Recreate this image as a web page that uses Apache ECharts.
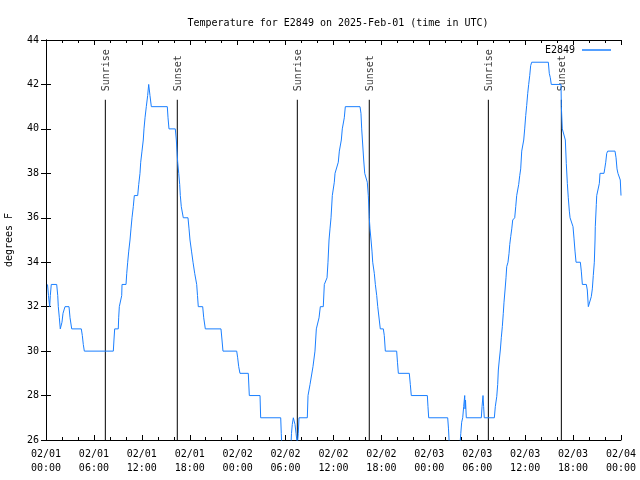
<!DOCTYPE html>
<html>
<head>
<meta charset="utf-8">
<script src="https://cdn.jsdelivr.net/npm/echarts@6/dist/echarts.min.js"></script>
<style>html,body{margin:0;padding:0;background:#fff}#c{width:640px;height:480px}</style>
</head>
<body>
<div id="c"></div>
<script>
// hours since 2025-02-01 00:00 UTC
var times = [0.19,0.31,0.46,0.54,0.66,1.34,1.47,1.54,1.67,1.79,1.88,2.00,2.13,2.38,2.88,3.01,3.22,4.42,4.55,4.67,4.80,8.43,8.51,8.60,9.05,9.10,9.18,9.35,9.48,9.52,10.02,10.11,10.23,10.36,10.52,10.64,10.77,10.93,11.06,11.48,11.61,11.77,11.86,12.02,12.18,12.27,12.40,12.56,12.73,12.86,12.94,13.02,13.19,15.19,15.28,15.40,16.19,16.32,16.40,16.49,16.62,16.74,16.82,16.94,17.19,17.78,17.91,18.03,18.22,18.41,18.62,18.87,18.97,19.07,19.62,19.75,19.95,21.91,22.04,22.16,23.88,24.00,24.13,24.29,25.33,25.46,26.80,26.88,29.39,29.46,29.55,30.64,30.74,30.84,30.97,31.09,31.18,31.31,31.47,31.59,31.68,32.72,32.81,33.06,33.43,33.68,33.85,34.19,34.35,34.72,34.85,35.19,35.31,35.44,35.56,35.69,35.85,36.10,36.19,36.35,36.60,36.73,36.98,37.10,37.35,37.48,39.32,39.44,39.53,39.78,39.91,40.11,40.23,40.36,40.48,40.57,40.70,40.82,40.91,41.11,41.24,41.41,41.54,41.74,41.86,42.24,42.36,42.49,43.91,44.01,44.12,45.49,45.62,45.74,47.75,47.83,47.92,50.30,50.40,50.50,51.84,51.94,52.05,52.18,52.30,52.43,52.47,52.53,52.63,54.51,54.60,54.72,54.80,54.88,56.14,56.26,56.44,56.56,56.64,56.76,56.89,57.01,57.14,57.26,57.35,57.48,57.60,57.69,57.85,57.98,58.07,58.19,58.32,58.44,58.69,58.82,58.94,59.07,59.19,59.32,59.44,59.57,59.69,59.82,59.94,60.07,60.19,60.32,60.44,60.57,60.69,60.82,62.90,63.02,63.15,63.27,64.49,64.53,64.65,64.90,65.03,65.15,65.28,65.40,65.53,65.62,65.87,65.99,66.12,66.24,66.37,66.91,67.03,67.16,67.66,67.78,67.91,68.16,68.28,68.41,68.53,68.66,68.75,68.78,68.91,68.96,69.16,69.29,69.37,69.87,69.96,70.09,70.21,70.34,71.25,71.38,71.50,71.62,71.79,71.91,72.00];
var temps = [33,32.5,32,32.5,33,33,32.5,32,31.5,31,31,31.3,31.7,32,32,31.5,31,31,30.7,30.3,30,30,30.5,31,31,31.5,32,32,32.5,33,33,33.5,34,34.5,35,35.5,36,36.5,37,37,37.5,38,38.5,39,39.5,40,40.5,41,41.5,42,42,41.5,41,41,40.5,40,40,39.5,39,38.5,38,37.5,37,36.5,36,36,35.5,35,34.5,34,33.5,33,32.5,32,32,31.5,31,31,30.5,30,30,29.7,29.3,29,29,28,28,27,27,26.3,25.5,25.5,26.3,26.7,27,27,26.7,26.3,25.8,26.3,27,27,28,28.5,29.3,30,31,31.5,32,32,33,33.3,34,35,35.5,36,37,37.6,38,38,38.5,39,39.5,40,40.5,41,41,40.7,40,38.6,38,38,37.6,37,36,35.5,35,34.5,34,33.5,33,32.5,32,32,31,31,30.7,30,30,29.5,29,29,28.5,28,28,27.5,27,27,26.5,25.8,25.8,26.3,26.8,27,27.5,28,27.4,27.8,27,27,27.5,28,27.5,27,27,27.5,27.95,28.5,29.15,29.6,30.05,30.6,31.1,31.7,32.2,32.75,33.3,33.8,34,34.4,34.8,35.15,35.5,35.9,36,36.5,37,37,37.5,37.9,38.2,39,39,39.5,40,40.6,41.05,41.6,42,42.4,42.85,43,43,42.5,42.3,42,42,41,40,40,39.5,38.45,37.55,36.9,36.3,36,36,35.6,35.05,34.5,34,34,33.6,33,33,32.75,32,32,32.45,32.8,33.4,34,35,35.6,36.6,37,37,37.55,38,38,38.2,38.5,38.9,39,39,38.7,38.2,38,38,37.7,37];
var sunTimes = [7.43,16.44,31.47,40.48,55.39,64.53];
var sunNames = ['Sunrise','Sunset','Sunrise','Sunset','Sunrise','Sunset'];
var seriesName = 'E2849';
var titleText = 'Temperature for E2849 on 2025-Feb-01 (time in UTC)';
var yName = 'degrees F';
var dayLabels = ['02/01','02/02','02/03','02/04'];

var FONT = 'DejaVu Sans Mono';
var pts = times.map(function(t,i){return [t,temps[i]];});

function xLab(v){
  var d = Math.floor(v/24), h = v - d*24;
  return dayLabels[d] + '\n' + (h<10?'0':'') + h + ':00';
}
var tickBase = {
  axisLine:{show:true,lineStyle:{color:'#000',width:1}},
  axisTick:{show:true,inside:true,length:5,lineStyle:{color:'#000'}},
  splitLine:{show:false}
};
function ext(a,b){return Object.assign({},a,b);}

var series = [];
sunTimes.forEach(function(t,i){
  series.push({type:'line',silent:true,symbol:'none',data:[[t,26],[t,41.31]],
    lineStyle:{color:'#000',width:1},itemStyle:{color:'#000'},animation:false,z:1});
});
series.push({type:'scatter',silent:true,symbolSize:0,animation:false,
  data:sunTimes.map(function(t,i){return {value:[t,41.69],name:sunNames[i]};}),
  label:{show:true,formatter:'{b}',rotate:90,position:[1,0],align:'left',verticalAlign:'middle',
    fontFamily:FONT,fontSize:10,color:'#000'}});
series.push({name:seriesName,type:'line',data:pts,showSymbol:false,symbol:'none',clip:true,
  lineStyle:{color:'#1a7fff',width:1},itemStyle:{color:'#1a7fff'},animation:false,z:3});

var chart = echarts.init(document.getElementById('c'));
chart.setOption({
  animation:false,
  textStyle:{fontFamily:FONT},
  title:{text:titleText,left:333,top:13,textAlign:'center',
    textStyle:{fontFamily:FONT,fontSize:10,fontWeight:'normal',color:'#000'}},
  legend:{data:[{name:seriesName,icon:'rect'}],right:24,top:40,align:'right',itemWidth:29,itemHeight:1.5,
    itemGap:5,textStyle:{fontFamily:FONT,fontSize:10,color:'#000',padding:[0,2,0,0]},selectedMode:false},
  grid:{left:46,right:19,top:40,bottom:40,containLabel:false,outerBoundsMode:'none'},
  xAxis:[
    ext(tickBase,{type:'value',min:0,max:72,interval:6,position:'bottom',
      minorTick:{show:true,splitNumber:3,length:3,lineStyle:{color:'#000'}},
      axisLabel:{formatter:xLab,fontFamily:FONT,fontSize:10,color:'#000',margin:7,lineHeight:14}}),
    ext(tickBase,{type:'value',min:0,max:72,interval:6,position:'top',
      minorTick:{show:true,splitNumber:3,length:3,lineStyle:{color:'#000'}},
      axisLabel:{show:false}})
  ],
  yAxis:[
    ext(tickBase,{type:'value',min:26,max:44,interval:2,position:'left',
      name:yName,nameLocation:'middle',nameRotate:90,nameGap:32,
      nameTextStyle:{fontFamily:FONT,fontSize:10,color:'#000'},
      axisLabel:{fontFamily:FONT,fontSize:10,color:'#000',margin:7}}),
    ext(tickBase,{type:'value',min:26,max:44,interval:2,position:'right',axisLabel:{show:false}})
  ],
  series:series
});
</script>
</body>
</html>
